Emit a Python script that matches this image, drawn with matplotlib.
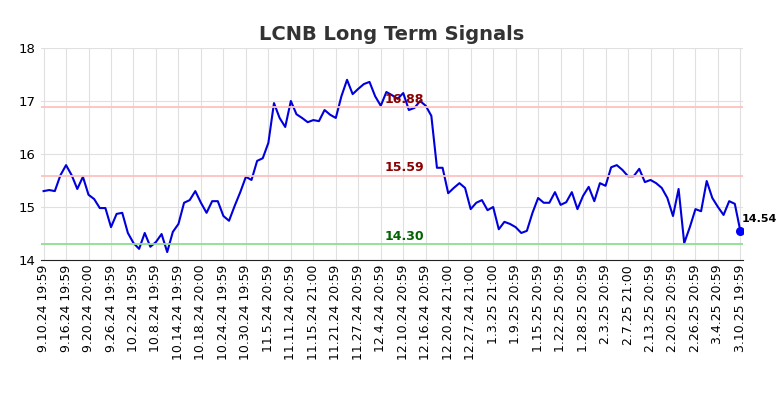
import numpy as np
import matplotlib
matplotlib.use("Agg")
import matplotlib.pyplot as plt

ypix = [191,190,191,175,165,175,189,177,195,199,208,208,227,214,213,233,243,249,233,247,242,234,252,232,224,203,200,191,203,213,201,201,216,221,206,192,177,180,161,158,143,103,118,127,101,114,118,122,120,121,110,115,118,96,80,94,89,84,82,96,106,92,95,99,93,110,108,101,106,116,168,168,193,188,183,188,209,203,200,210,207,229,222,224,227,233,231,213,198,203,203,192,205,202,192,209,196,187,201,183,186,167,165,170,176,176,169,182,180,183,188,198,216,189,243,227,209,211,181,198,207,215,201,204,231]
values = [round(18 - (p - 48) / 53, 2) for p in ypix]
values[-1] = 14.54
tick_labels = ["9.10.24 19:59","9.16.24 19:59","9.20.24 20:00","9.26.24 19:59","10.2.24 19:59","10.8.24 19:59",
               "10.14.24 19:59","10.18.24 20:00","10.24.24 19:59","10.30.24 19:59","11.5.24 20:59","11.11.24 20:59",
               "11.15.24 21:00","11.21.24 20:59","11.27.24 20:59","12.4.24 20:59","12.10.24 20:59","12.16.24 20:59",
               "12.20.24 21:00","12.27.24 21:00","1.3.25 21:00","1.9.25 20:59","1.15.25 20:59","1.22.25 20:59",
               "1.28.25 20:59","2.3.25 20:59","2.7.25 21:00","2.13.25 20:59","2.20.25 20:59","2.26.25 20:59",
               "3.4.25 20:59","3.10.25 19:59"]
levels = [16.88, 15.59, 14.30]
level_colors = ["#ffc0c0", "#ffc0c0", "#90dd90"]
text_colors = ["#8b0000", "#8b0000", "#006400"]

fig, ax = plt.subplots(figsize=(7.84, 4.0), dpi=100)
fig.subplots_adjust(left=0.052, right=0.948, top=0.88, bottom=0.35)
x = np.arange(len(values))
ax.plot(x, values, color="#0000dd", lw=1.5)
ax.scatter([x[-1]], [values[-1]], color="#0000ff", s=30, zorder=5)
ax.text(x[-1] + 0.3, values[-1] + 0.17, f"{values[-1]:.2f}", fontsize=8, fontweight="bold")
for lv, lc, tc in zip(levels, level_colors, text_colors):
    ax.axhline(lv, color=lc, lw=1.3)
    ax.text(len(values) * 0.485, lv + 0.03, f"{lv:.2f}", color=tc, fontsize=9, fontweight="bold", ha="left", va="bottom")
ticks = np.linspace(0, len(values) - 1, len(tick_labels))
ax.set_xticks(ticks)
ax.set_xticklabels(tick_labels, rotation=90, fontsize=9)
ax.set_xlim(-0.5, len(values) - 0.5)
ax.set_ylim(14, 18)
ax.set_yticks([14, 15, 16, 17, 18])
ax.tick_params(axis="y", labelsize=9.5, length=0)
ax.tick_params(axis="x", length=0)
ax.grid(color="#e0e0e0", lw=0.8)
for s in ["top", "right", "left"]:
    ax.spines[s].set_visible(False)
ax.spines["bottom"].set_color("#222222")
ax.set_title("LCNB Long Term Signals", fontsize=14, fontweight="bold", color="#333333")
fig.savefig("out.png")
